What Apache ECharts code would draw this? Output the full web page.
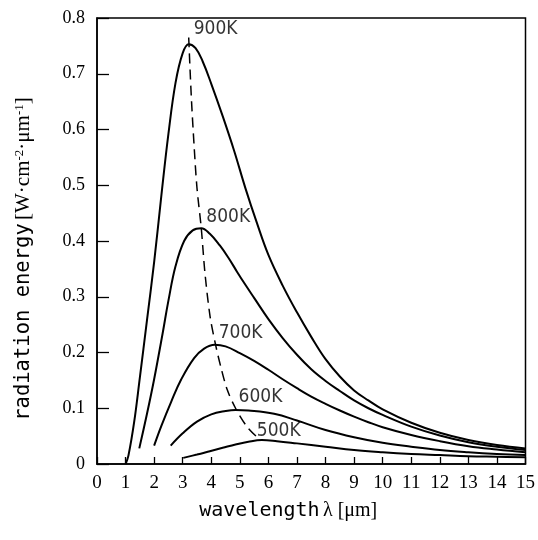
<!DOCTYPE html>
<html>
<head>
<meta charset="utf-8">
<script src="https://cdn.jsdelivr.net/npm/echarts@6/dist/echarts.min.js"></script>
<style>
  html, body { margin: 0; padding: 0; background: #fff; }
  #chart { width: 538px; height: 540px; }
</style>
</head>
<body>
<div id="chart"></div>
<script>
// wavelength [um], radiation energy [W/cm2/um]
const k900 = [[1.0, 0], [1.1, 0.015], [1.3, 0.075], [1.5, 0.155], [1.75, 0.258], [2.0, 0.362], [2.25, 0.48], [2.5, 0.592], [2.75, 0.684], [3.0, 0.737], [3.21, 0.753], [3.45, 0.746], [3.7, 0.722], [4.0, 0.682], [4.4, 0.624], [4.8, 0.562], [5.2, 0.494], [5.6, 0.432], [6.0, 0.375], [6.5, 0.32], [7.0, 0.272], [7.5, 0.228], [8.0, 0.188], [8.5, 0.157], [9.0, 0.132], [9.5, 0.114], [10, 0.098], [11, 0.074], [12, 0.056], [13, 0.043], [14, 0.034], [15, 0.028]]
const k800 = [[1.48, 0.028], [1.75, 0.09], [2.0, 0.152], [2.3, 0.235], [2.5, 0.293], [2.75, 0.355], [3.05, 0.4], [3.35, 0.419], [3.65, 0.423], [3.95, 0.413], [4.3, 0.392], [4.6, 0.37], [4.9, 0.345], [5.2, 0.321], [5.5, 0.298], [6.0, 0.26], [6.5, 0.226], [7.0, 0.196], [7.5, 0.17], [8.0, 0.149], [8.5, 0.131], [9.0, 0.114], [9.5, 0.1], [10, 0.088], [11, 0.067], [12, 0.051], [13, 0.039], [14, 0.031], [15, 0.025]]
const k700 = [[2.0, 0.033], [2.25, 0.068], [2.6, 0.112], [2.95, 0.152], [3.4, 0.19], [3.75, 0.207], [4.12, 0.214], [4.5, 0.211], [5.0, 0.199], [5.5, 0.185], [6.0, 0.169], [6.5, 0.152], [7.0, 0.136], [7.5, 0.121], [8.0, 0.108], [8.5, 0.096], [9.0, 0.085], [9.5, 0.075], [10, 0.066], [11, 0.052], [12, 0.041], [13, 0.032], [14, 0.026], [15, 0.021]]
const k600 = [[2.58, 0.033], [3.0, 0.055], [3.5, 0.076], [4.0, 0.089], [4.5, 0.095], [4.85, 0.097], [5.3, 0.096], [6.2, 0.09], [7.0, 0.078], [8.0, 0.061], [9.0, 0.048], [10, 0.038], [11, 0.031], [12, 0.025], [13, 0.021], [14, 0.018], [15, 0.016]]
const k500 = [[3.02, 0.011], [3.5, 0.017], [3.95, 0.023], [4.4, 0.029], [4.85, 0.035], [5.3, 0.04], [5.77, 0.043], [6.3, 0.041], [7.0, 0.037], [8.0, 0.031], [9.0, 0.025], [10, 0.021], [11, 0.018], [12, 0.016], [13, 0.014], [14, 0.013], [15, 0.012]]
// locus of the maxima (dashed)
const peakLocus = [[3.21, 0.765], [3.3, 0.66], [3.4, 0.57], [3.5, 0.495], [3.65, 0.423], [3.78, 0.342], [3.96, 0.264], [4.15, 0.214], [4.33, 0.175], [4.56, 0.133], [4.85, 0.1], [5.25, 0.067], [5.71, 0.043]]

const curveNames = ['900K', '800K', '700K', '600K', '500K']
const curves = [k900, k800, k700, k600, k500]
const xTicks = [0, 15, 1]
const yTicks = [0, 0.8, 0.1]

const chart = echarts.init(document.getElementById('chart'))

const serif = 'Liberation Serif, Times New Roman, serif'
const mono = 'DejaVu Sans Mono, monospace'
const labelFont = 'DejaVu Sans Condensed, DejaVu Sans, sans-serif'

// label offset from each curve's maximum, px
const labelOffsets = [[5, -15], [5, -11], [4, -12], [3, -13], [-5, -9]]

const peaks = curves.map((c, i) => {
  let best = c[0]
  c.forEach(p => { if (p[1] > best[1]) best = p })
  return {
    value: best,
    label: { offset: labelOffsets[i], formatter: curveNames[i] }
  }
})

const lineSeries = curves.map((c, i) => ({
  name: curveNames[i],
  type: 'line',
  data: c,
  smooth: 0.4,
  showSymbol: false,
  lineStyle: { color: '#000', width: 2 },
  z: 3
}))

const option = {
  animation: false,
  grid: {
    left: 97, top: 18, width: 432, height: 446,
    show: true, borderColor: '#000', borderWidth: 1.5, backgroundColor: 'transparent'
  },
  xAxis: {
    type: 'value',
    min: xTicks[0], max: xTicks[1], interval: xTicks[2],
    axisLine: { lineStyle: { color: '#000', width: 1.5 } },
    axisTick: { inside: true, length: 7, lineStyle: { color: '#000', width: 1.3 } },
    axisLabel: { color: '#000', fontFamily: serif, fontSize: 19, margin: 10 },
    splitLine: { show: false },
    name: '{m|wavelength} {s|λ [μm]}',
    nameLocation: 'middle',
    nameGap: 37,
    nameTextStyle: {
      padding: [0, 46, 0, 0],
      rich: {
        m: { fontFamily: mono, fontSize: 20, color: '#000' },
        s: { fontFamily: serif, fontSize: 20, color: '#000' }
      }
    }
  },
  yAxis: {
    type: 'value',
    min: yTicks[0], max: yTicks[1], interval: yTicks[2],
    axisLine: { lineStyle: { color: '#000', width: 1.5 } },
    axisTick: { inside: true, length: 12, lineStyle: { color: '#000', width: 1.3 } },
    axisLabel: { color: '#000', fontFamily: serif, fontSize: 18, margin: 12 },
    splitLine: { show: false },
    name: '{m|radiation energy} {s|[W·cm}{sup|-2}{s|·μm}{sup|-1}{s|]}',
    nameLocation: 'middle',
    nameGap: 63,
    nameTextStyle: {
      padding: [0, 36, 0, 0],
      rich: {
        m: { fontFamily: mono, fontSize: 20.5, color: '#000' },
        s: { fontFamily: serif, fontSize: 21, color: '#000' },
        sup: { fontFamily: serif, fontSize: 13, color: '#000', verticalAlign: 'top' }
      }
    }
  },
  series: [
    ...lineSeries,
    {
      name: 'locus',
      type: 'line',
      data: peakLocus,
      smooth: 0.3,
      showSymbol: false,
      lineStyle: { color: '#000', width: 1.5, type: [10, 6] },
      z: 2
    },
    {
      name: 'labels',
      type: 'scatter',
      data: peaks,
      symbolSize: 0,
      label: {
        show: true,
        position: 'right',
        distance: 0,
        color: '#000',
        fontFamily: labelFont,
        fontSize: 19
      },
      z: 4
    }
  ]
}

chart.setOption(option)
</script>
</body>
</html>
